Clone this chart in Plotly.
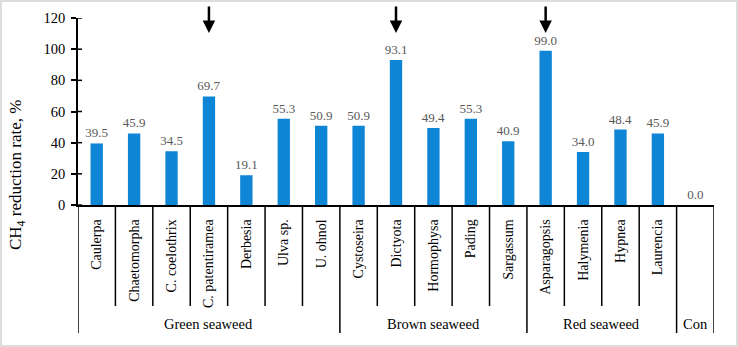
import plotly.graph_objects as go

categories = ["Caulerpa", "Chaetomorpha", "C. coelothrix", "C. patentiramea", "Derbesia",
              "Ulva sp.", "U. ohnol", "Cystoseira", "Dictyota", "Hormophysa", "Pading",
              "Sargassum", "Asparagopsis", "Halymenia", "Hypnea", "Laurencia", "Con"]
tick_labels = ["Caulerpa", "Chaetomorpha", "C. coelothrix", "C. patentiramea", "Derbesia",
               "Ulva sp.", "U. ohnol", "Cystoseira", "Dictyota", "Hormophysa", "Pading",
               "Sargassum", "Asparagopsis", "Halymenia", "Hypnea", "Laurencia", ""]
values = [39.5, 45.9, 34.5, 69.7, 19.1, 55.3, 50.9, 50.9, 93.1, 49.4, 55.3,
          40.9, 99.0, 34.0, 48.4, 45.9, 0.0]
groups = ["Green seaweed", "Brown seaweed", "Red seaweed", "Con"]
group_sizes = [7, 5, 4, 1]
arrow_categories = ["C. patentiramea", "Dictyota", "Asparagopsis"]
y_ticks = [0, 20, 40, 60, 80, 100, 120]

FONT = "Liberation Serif"
W, H = 738, 347
L, R, T, B = 78, 24, 18, 142
PW, PH = W - L - R, H - T - B


def py2paper(py):
    return (H - B - py) / PH


def px2paper(px):
    return (px - L) / PW


fig = go.Figure()
fig.add_trace(go.Bar(
    x=categories, y=values, width=0.33,
    marker=dict(color="#0f85d5", line=dict(width=0)),
    text=[f"{v:.1f}" for v in values], textposition="outside",
    constraintext="none",
    textfont=dict(family=FONT, size=13, color="#595959"),
    cliponaxis=False, showlegend=False, hoverinfo="skip",
))

shapes = []
n = len(categories)
group_bounds = {0}
acc = 0
for s in group_sizes:
    acc += s
    group_bounds.add(acc)
for i in range(n + 1):
    long = i in group_bounds
    shapes.append(dict(type="line", xref="x", yref="paper",
                       x0=i - 0.5, x1=i - 0.5, y0=0,
                       y1=py2paper(333 if long else 306),
                       line=dict(color="black", width=1.5)))
for t in y_ticks:
    shapes.append(dict(type="line", xref="paper", yref="y",
                       x0=0, x1=4 / PW, y0=t, y1=t,
                       line=dict(color="black", width=1.5)))
shapes.append(dict(type="rect", xref="paper", yref="paper",
                   x0=px2paper(1), x1=px2paper(W - 1), y0=py2paper(H - 1), y1=py2paper(1),
                   line=dict(color="#dcdcdc", width=2), layer="below"))

annotations = []
acc = 0
for g, s in zip(groups, group_sizes):
    center = acc + (s - 1) / 2
    annotations.append(dict(x=center, xref="x", y=py2paper(324), yref="paper",
                            text=g, showarrow=False, yanchor="middle",
                            font=dict(family=FONT, size=14.5, color="black")))
    acc += s
for c in arrow_categories:
    annotations.append(dict(x=c, xref="x", y=py2paper(33), yref="paper",
                            ax=0, ay=-28, showarrow=True, arrowhead=2, arrowsize=1,
                            arrowwidth=2.5, arrowcolor="black", text=""))
annotations.append(dict(x=px2paper(17), xref="paper", y=py2paper(175), yref="paper",
                        text="CH<sub>4</sub> reduction rate, %", textangle=-90,
                        showarrow=False, xanchor="center", yanchor="middle",
                        font=dict(family=FONT, size=17, color="black")))

fig.update_layout(
    width=W, height=H, margin=dict(l=L, r=R, t=T, b=B, autoexpand=False),
    paper_bgcolor="white", plot_bgcolor="white",
    shapes=shapes, annotations=annotations,
    font=dict(family=FONT),
    xaxis=dict(type="category", range=[-0.5, n - 0.5], showline=True, linecolor="black",
               linewidth=1.5, ticks="", tickangle=-90, showgrid=False, zeroline=False,
               tickmode="array", tickvals=categories, ticktext=tick_labels,
               automargin=False, fixedrange=True,
               tickfont=dict(family=FONT, size=14, color="black"), ticklabelstandoff=7),
    yaxis=dict(range=[0, 120], tickvals=y_ticks, showline=True, linecolor="black",
               linewidth=1.5, ticks="outside", ticklen=5, tickwidth=1.5, tickcolor="black",
               showgrid=False, zeroline=False, automargin=False, fixedrange=True,
               tickfont=dict(family=FONT, size=14.5, color="black"), ticklabelstandoff=3),
)

fig.write_html("out.html", config={"displayModeBar": False},
               post_script="document.body.style.margin='0';document.body.style.overflow='hidden';")
